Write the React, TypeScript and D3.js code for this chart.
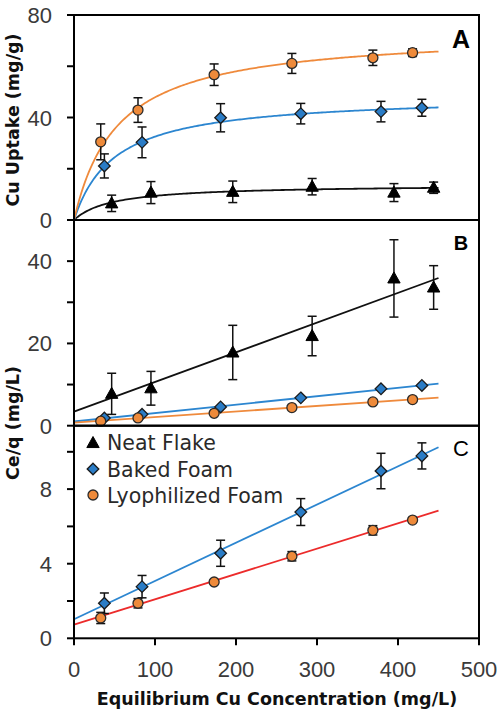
import React from "react";
import * as d3 from "d3";

// ---------- data ----------
const ceNeat = [46.5, 95, 196, 294, 395, 444];
const ceBaked = [37.5, 84, 181, 280, 379, 429.5];
const ceLyo = [33, 79, 173, 269, 369, 418];

const qNeat = [6.5, 10.7, 11.0, 13.0, 10.7, 12.6];
const qNeatErr = [3.2, 4.3, 4.2, 3.2, 3.5, 2.2];
const qBaked = [21.1, 30.3, 39.9, 41.5, 42.3, 43.8];
const qBakedErr = [4.7, 6.0, 5.5, 4.0, 4.0, 3.3];
const qLyo = [30.5, 42.9, 56.7, 61.1, 63.3, 65.3];
const qLyoErr = [7.0, 4.8, 4.2, 3.9, 3.0, 1.5];

const ceqNeat = [7.75, 9.1, 17.8, 21.8, 35.8, 33.6];
const ceqNeatErr = [5.0, 4.1, 6.6, 4.8, 9.4, 5.3];
const ceqBaked = [1.88, 2.77, 4.56, 6.77, 8.97, 9.78];
const ceqBakedErr = [0.55, 0.6, 0.7, 0.72, 0.95, 0.7];
const ceqLyo = [1.09, 1.88, 3.02, 4.4, 5.79, 6.34];
const ceqLyoErr = [0.3, 0.25, 0.1, 0.25, 0.25, 0.12];

// Langmuir fit parameters: [Neat, Baked, Lyophilized]
const fitQmax = [13.85, 48.8, 73.6];
const fitK = [0.0212, 0.02, 0.0186];
const fitRange = [0, 450];

const seriesNames = ["Neat Flake", "Baked Foam", "Lyophilized Foam"];

const xTicks = [0, 100, 200, 300, 400, 500];
const aTicks = [0, 20, 40, 60, 80];
const aLabels = [0, 40, 80];
const bTicks = [0, 10, 20, 30, 40, 50];
const bLabels = [0, 20, 40];
const cTicks = [0, 2, 4, 6, 8, 10];
const cLabels = [0, 4, 8];

// ---------- layout ----------
const W = 500;
const H = 717;
const L = 74;
const R = 479;
const aTop = 15, aBot = 220;
const bTop = 220, bBot = 425.7;
const cTop = 425.7, cBot = 638.3;

const COL_BLACK = "#111";
const COL_BLUE = "#2c86d0";
const COL_BLUE_FILL = "#2a7cc6";
const COL_ORANGE = "#ef8a3c";
const COL_ORANGE_FILL = "#ee8a3a";
const COL_RED = "#ec2b2b";

const tickFont = "'Liberation Sans', Arial, sans-serif";
const titleFont = "'DejaVu Sans', sans-serif";

const x = d3.scaleLinear().domain([0, 500]).range([L, R]);
const yA = d3.scaleLinear().domain([0, 80]).range([aBot, aTop]);
const yB = d3.scaleLinear().domain([0, 50]).range([bBot, bTop]);
const yC = d3.scaleLinear().domain([0, 11.4]).range([cBot, cTop]);

function Marker({ type, cx, cy }: { type: number; cx: number; cy: number }) {
  if (type === 0) {
    const s = 6.5;
    const p = `M${cx},${cy - s}L${cx + s * 0.95},${cy + s * 0.7}L${cx - s * 0.95},${cy + s * 0.7}Z`;
    return <path d={p} fill="#000" stroke="#000" strokeWidth={1} />;
  }
  if (type === 1) {
    const s = 5.8;
    const p = `M${cx},${cy - s}L${cx + s},${cy}L${cx},${cy + s}L${cx - s},${cy}Z`;
    return <path d={p} fill={COL_BLUE_FILL} stroke="#1a1a1a" strokeWidth={1.3} />;
  }
  return <circle cx={cx} cy={cy} r={5} fill={COL_ORANGE_FILL} stroke="#2a2a2a" strokeWidth={1.3} />;
}

function ErrorBars({ xs, ys, es, y }: { xs: number[]; ys: number[]; es: number[]; y: any }) {
  return (
    <g stroke="#111" strokeWidth={1.5} fill="none">
      {xs.map((xv, i) => {
        const px = x(xv);
        const y1 = y(ys[i] + es[i]);
        const y2 = y(ys[i] - es[i]);
        return (
          <g key={i}>
            <line x1={px} x2={px} y1={y1} y2={y2} />
            <line x1={px - 4.5} x2={px + 4.5} y1={y1} y2={y1} />
            <line x1={px - 4.5} x2={px + 4.5} y1={y2} y2={y2} />
          </g>
        );
      })}
    </g>
  );
}

function Points({ xs, ys, type, y }: { xs: number[]; ys: number[]; type: number; y: any }) {
  return (
    <g>
      {xs.map((xv, i) => (
        <Marker key={i} type={type} cx={x(xv)} cy={y(ys[i])} />
      ))}
    </g>
  );
}

function langmuirPath(i: number, y: any) {
  const n = 200;
  const pts: [number, number][] = d3.range(n + 1).map((k) => {
    const c = fitRange[0] + ((fitRange[1] - fitRange[0]) * k) / n;
    return [c, (fitQmax[i] * fitK[i] * c) / (1 + fitK[i] * c)];
  });
  const line = d3.line<[number, number]>().x((d) => x(d[0])).y((d) => y(d[1]));
  return line(pts) as string;
}

function linearPath(i: number, y: any) {
  const pts: [number, number][] = fitRange.map((c) => [c, c / fitQmax[i] + 1 / (fitK[i] * fitQmax[i])]);
  const line = d3.line<[number, number]>().x((d) => x(d[0])).y((d) => y(d[1]));
  return line(pts) as string;
}

function YAxis({ y, ticks, labels }: { y: any; ticks: number[]; labels: number[] }) {
  return (
    <g>
      {ticks.map((t) => (
        <line key={t} x1={L - 7} x2={L} y1={y(t)} y2={y(t)} stroke="#000" strokeWidth={2} />
      ))}
      {labels.map((t) => (
        <text
          key={"l" + t}
          x={52}
          y={y(t) + 8}
          textAnchor="end"
          fontFamily={tickFont}
          fontSize={22}
          fill="#3a3a3a"
        >
          {t}
        </text>
      ))}
    </g>
  );
}

function Frame({ top, bot }: { top: number; bot: number }) {
  return <rect x={L} y={top} width={R - L} height={bot - top} fill="none" stroke="#000" strokeWidth={2} />;
}

function PanelLetter({ label, yBase, bold, size }: { label: string; yBase: number; bold: boolean; size: number }) {
  return (
    <text
      x={461}
      y={yBase}
      textAnchor="middle"
      fontFamily={tickFont}
      fontWeight={bold ? "bold" : "normal"}
      fontSize={size}
      fill="#000"
    >
      {label}
    </text>
  );
}

export default function App() {
  return (
    <svg
      width={W}
      height={H}
      viewBox={`0 0 ${W} ${H}`}
      style={{ position: "absolute", left: 0, top: 0, background: "#fff" }}
    >
      <rect x={0} y={0} width={W} height={H} fill="#fff" />

      {/* Panel A */}
      <g>
        <path d={langmuirPath(0, yA)} fill="none" stroke={COL_BLACK} strokeWidth={1.8} />
        <path d={langmuirPath(1, yA)} fill="none" stroke={COL_BLUE} strokeWidth={1.8} />
        <path d={langmuirPath(2, yA)} fill="none" stroke={COL_ORANGE} strokeWidth={1.8} />
        <ErrorBars xs={ceNeat} ys={qNeat} es={qNeatErr} y={yA} />
        <ErrorBars xs={ceBaked} ys={qBaked} es={qBakedErr} y={yA} />
        <ErrorBars xs={ceLyo} ys={qLyo} es={qLyoErr} y={yA} />
        <Points xs={ceNeat} ys={qNeat} type={0} y={yA} />
        <Points xs={ceBaked} ys={qBaked} type={1} y={yA} />
        <Points xs={ceLyo} ys={qLyo} type={2} y={yA} />
        <Frame top={aTop} bot={aBot} />
        <YAxis y={yA} ticks={aTicks} labels={aLabels} />
        <PanelLetter label="A" yBase={48} bold={true} size={25} />
      </g>

      {/* Panel B */}
      <g>
        <path d={linearPath(0, yB)} fill="none" stroke={COL_BLACK} strokeWidth={1.8} />
        <path d={linearPath(1, yB)} fill="none" stroke={COL_BLUE} strokeWidth={1.8} />
        <path d={linearPath(2, yB)} fill="none" stroke={COL_ORANGE} strokeWidth={1.8} />
        <ErrorBars xs={ceNeat} ys={ceqNeat} es={ceqNeatErr} y={yB} />
        <Points xs={ceNeat} ys={ceqNeat} type={0} y={yB} />
        <Points xs={ceBaked} ys={ceqBaked} type={1} y={yB} />
        <Points xs={ceLyo} ys={ceqLyo} type={2} y={yB} />
        <Frame top={bTop} bot={bBot} />
        <YAxis y={yB} ticks={bTicks} labels={bLabels} />
        <PanelLetter label="B" yBase={250} bold={true} size={20} />
      </g>

      {/* Panel C */}
      <g>
        <path d={linearPath(1, yC)} fill="none" stroke={COL_BLUE} strokeWidth={1.8} />
        <path d={linearPath(2, yC)} fill="none" stroke={COL_RED} strokeWidth={1.8} />
        <ErrorBars xs={ceBaked} ys={ceqBaked} es={ceqBakedErr} y={yC} />
        <ErrorBars xs={ceLyo} ys={ceqLyo} es={ceqLyoErr} y={yC} />
        <Points xs={ceBaked} ys={ceqBaked} type={1} y={yC} />
        <Points xs={ceLyo} ys={ceqLyo} type={2} y={yC} />
        <Frame top={cTop} bot={cBot} />
        <YAxis y={yC} ticks={cTicks} labels={cLabels} />
        <PanelLetter label="C" yBase={455.5} bold={false} size={22} />

        {/* legend */}
        {seriesNames.map((name, i) => (
          <g key={name}>
            <Marker type={i} cx={93} cy={443 + i * 26} />
            <text
              x={107}
              y={450 + i * 26.5}
              fontFamily={titleFont}
              fontSize={20.5}
              fill="#2a2a2a"
            >
              {name}
            </text>
          </g>
        ))}
      </g>

      {/* X axis */}
      <g>
        {xTicks.map((t) => (
          <g key={t}>
            <line x1={x(t)} x2={x(t)} y1={cBot} y2={cBot + 7} stroke="#000" strokeWidth={2} />
            <text
              x={x(t)}
              y={677}
              textAnchor="middle"
              fontFamily={tickFont}
              fontSize={22}
              fill="#3a3a3a"
            >
              {t}
            </text>
          </g>
        ))}
        <text
          x={277}
          y={705}
          textAnchor="middle"
          fontFamily={titleFont}
          fontWeight="bold"
          fontSize={17.5}
          fill="#111"
        >
          Equilibrium Cu Concentration (mg/L)
        </text>
      </g>

      {/* Y titles */}
      <text
        transform={`translate(19,120) rotate(-90)`}
        textAnchor="middle"
        fontFamily={titleFont}
        fontWeight="bold"
        fontSize={17.5}
        fill="#111"
      >
        Cu Uptake (mg/g)
      </text>
      <text
        transform={`translate(19,423) rotate(-90)`}
        textAnchor="middle"
        fontFamily={titleFont}
        fontWeight="bold"
        fontSize={17.5}
        fill="#111"
      >
        Ce/q (mg/L)
      </text>
    </svg>
  );
}
